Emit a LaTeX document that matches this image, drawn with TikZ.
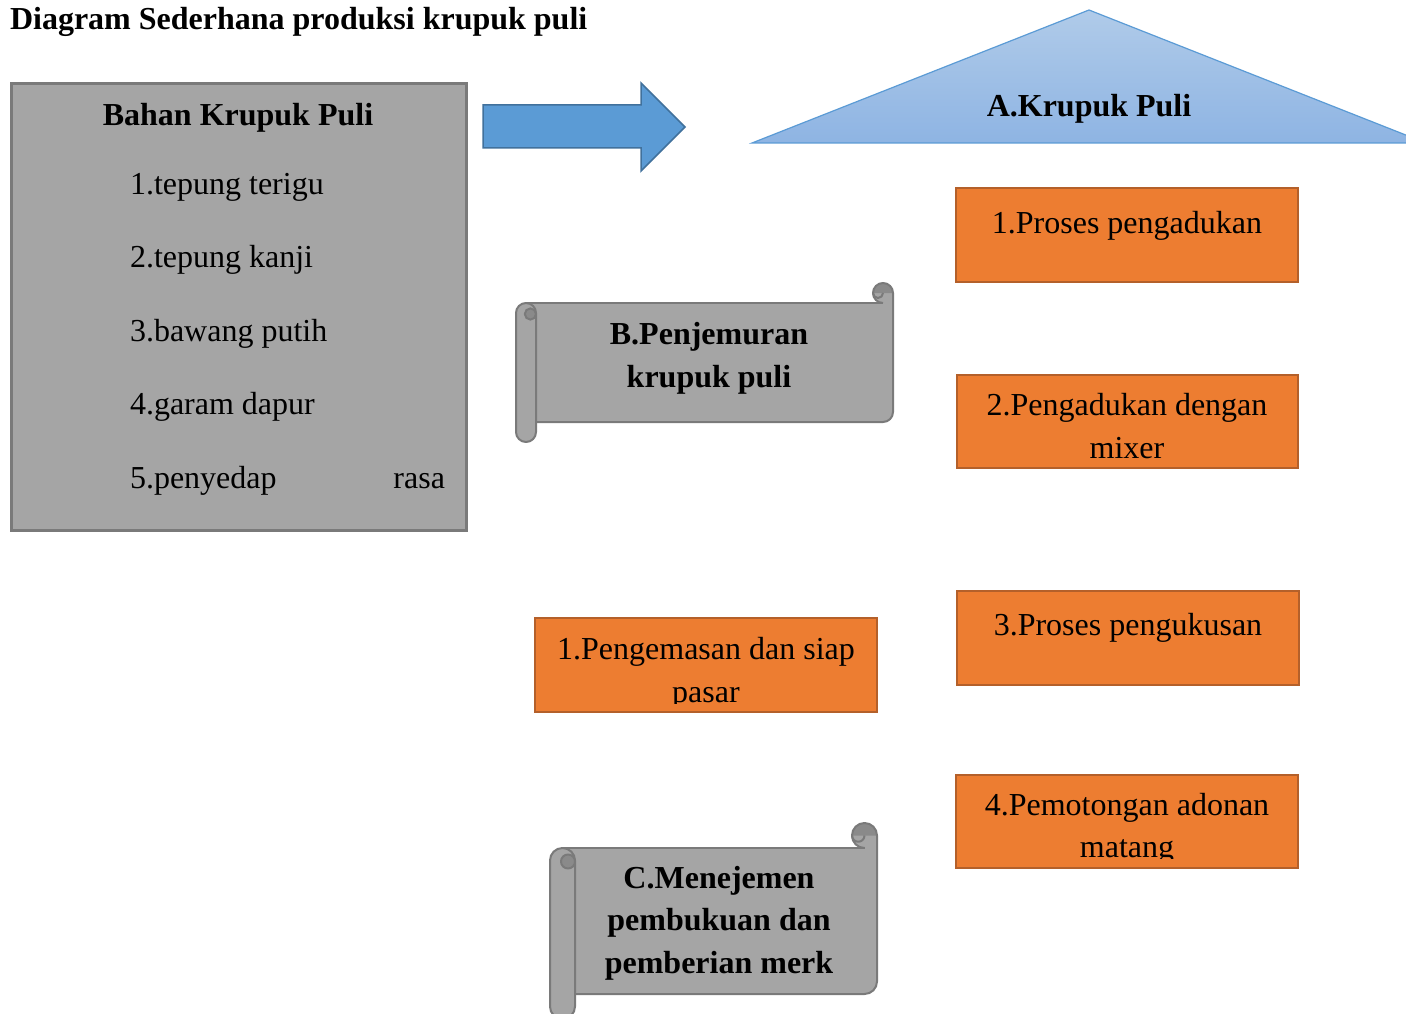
\documentclass[tikz,border=0pt]{standalone}
\usepackage{fontspec}
\setmainfont{Liberation Serif}
\definecolor{graybody}{HTML}{A5A5A5}
\definecolor{grayline}{HTML}{7A7A7A}
\definecolor{graydark}{HTML}{8A8A8A}
\definecolor{orfill}{HTML}{ED7D31}
\definecolor{orline}{HTML}{B4602A}
\definecolor{arrfill}{HTML}{5B9BD5}
\definecolor{arrline}{HTML}{41719C}
\definecolor{tritop}{HTML}{B0CBE9}
\definecolor{tribot}{HTML}{8EB4E3}
\definecolor{triline}{HTML}{5B9BD5}
\newcommand\bigtxt{\fontsize{32}{43}\selectfont}
% scroll: l t r b ch
\newcommand\scrollshape[5]{%
  \pgfmathsetmacro\scA{#1+#5/2}%
  \pgfmathsetmacro\scAB{#1+#5}%
  \pgfmathsetmacro\scXf{#3-#5/2}%
  \pgfmathsetmacro\scXt{#3-#5}%
  \pgfmathsetmacro\scYa{#2+#5/2}%
  \pgfmathsetmacro\scYb{#2+#5}%
  \pgfmathsetmacro\scYc{#2+1.5*#5}%
  \pgfmathsetmacro\scYd{#4-#5}%
  \pgfmathsetmacro\scYe{#4-1.5*#5}%
  \pgfmathsetmacro\scYf{#4-#5/2}%
  \pgfmathsetmacro\scHh{#5/2}%
  \pgfmathsetmacro\scQq{#5/4}%
  \pgfmathsetmacro\scDr{0.28*#5}%
  \pgfmathsetmacro\scXq{#1+#5-0.28*#5}%
  \pgfmathsetmacro\scYq{#2+1.5*#5+1}%
  \fill[graybody] (\scA,\scYb) -- (\scXf,\scYb) -- (\scXf,\scYa) -- (#3,\scYa) -- (#3,\scYe)
     arc[start angle=0,end angle=90,radius=\scHh] -- (\scA,\scYd) -- cycle;
  \fill[graybody] (\scXf,\scYa) circle[radius=\scHh];
  \fill[graydark] (\scXt,\scYa) arc[start angle=180,end angle=360,radius=\scHh] -- cycle;
  \draw[scrollline] (\scA,\scYb) -- (\scXf,\scYb);
  \draw[scrollline] (\scXf,\scYb) arc[start angle=90,end angle=360,radius=\scHh] -- (#3,\scYe)
     arc[start angle=0,end angle=90,radius=\scHh] -- (\scA,\scYd);
  \draw[scrollline] (\scXf,\scYa) arc[start angle=0,end angle=180,radius=\scQq];
  \filldraw[scrollline,fill=graybody] (#1,\scYc) arc[start angle=180,end angle=360,radius=\scHh]
     -- (\scAB,\scYf) arc[start angle=0,end angle=180,radius=\scHh] -- cycle;
  \filldraw[scrollline,fill=graydark] (\scXq,\scYq) circle[radius=\scDr];
}
\tikzset{
  scrollline/.style={draw=grayline, line width=2pt, line join=round},
  obox/.style={fill=orfill, draw=orline, line width=2.5pt},
  txt/.style={inner sep=0pt, outer sep=0pt, font=\bigtxt, text=black},
  btxt/.style={txt, font=\bigtxt\bfseries},
}
\begin{document}
\begin{tikzpicture}[x=1pt,y=-1pt]
\useasboundingbox (0,0) rectangle (1406,1014);
\clip (0,0) rectangle (1406,1014);
\fill[white] (0,0) rectangle (1406,1014);

% title
\node[btxt, anchor=base west] (title) at (10,30) {Diagram Sederhana produksi krupuk puli};

% ingredients box
\filldraw[fill=graybody, draw=grayline, line width=3pt] (11,84) rectangle (466,530);
\node[btxt, anchor=base] (bahan) at (238,126) {Bahan Krupuk Puli};
\node[txt, anchor=base west] (i1) at (130,194) {1.tepung terigu};
\node[txt, anchor=base west] (i2) at (130,267) {2.tepung kanji};
\node[txt, anchor=base west] (i3) at (130,341) {3.bawang putih};
\node[txt, anchor=base west] (i4) at (130,414) {4.garam dapur};
\node[txt, anchor=base west] (i5) at (130,488) {5.penyedap};
\node[txt, anchor=base east] (i5b) at (445,488) {rasa};

% block arrow
\filldraw[fill=arrfill, draw=arrline, line width=1.5pt, line join=miter]
  (483,105) -- (641,105) -- (641,83) -- (685,127) -- (641,171) -- (641,148) -- (483,148) -- cycle;

% triangle
\shade[top color=tritop, bottom color=tribot] (752,143) -- (1089,10) -- (1426,143) -- cycle;
\draw[triline, line width=1.2pt, line join=miter] (752,143) -- (1089,10) -- (1426,143) -- cycle;
\node[btxt, anchor=base] (ktitle) at (1089,117) {A.Krupuk Puli};

% orange process boxes
\filldraw[obox] (956,188) rectangle (1298,282);
\node[txt, anchor=base] (p1) at (1127,233) {1.Proses pengadukan};

\filldraw[obox] (957,375) rectangle (1298,468);
\node[txt, anchor=base] (p2a) at (1127,415) {2.Pengadukan dengan};
\node[txt, anchor=base] (p2b) at (1127,458) {mixer};

\filldraw[obox] (957,591) rectangle (1299,685);
\node[txt, anchor=base] (p3) at (1128,635) {3.Proses pengukusan};

\filldraw[obox] (956,775) rectangle (1298,868);
\node[txt, anchor=base] (p4a) at (1127,815) {4.Pemotongan adonan};
\begin{scope}
  \clip (956,820) rectangle (1298,858);
  \node[txt, anchor=base] (p4b) at (1127,857) {matang};
\end{scope}

\filldraw[obox] (535,618) rectangle (877,712);
\node[txt, anchor=base] (k1a) at (706,659) {1.Pengemasan dan siap};
\begin{scope}
  \clip (535,665) rectangle (877,703);
  \node[txt, anchor=base] (k1b) at (706,702) {pasar};
\end{scope}

% scrolls
\scrollshape{516}{283}{893}{442}{20}
\node[btxt, anchor=base] (sB1) at (709,344) {B.Penjemuran};
\node[btxt, anchor=base] (sB2) at (709,387) {krupuk puli};

\scrollshape{550}{823}{877}{1019}{25}
\node[btxt, anchor=base] (sC1) at (719,888) {C.Menejemen};
\node[btxt, anchor=base] (sC2) at (719,930) {pembukuan dan};
\node[btxt, anchor=base] (sC3) at (719,973) {pemberian merk};
\end{tikzpicture}
\end{document}
